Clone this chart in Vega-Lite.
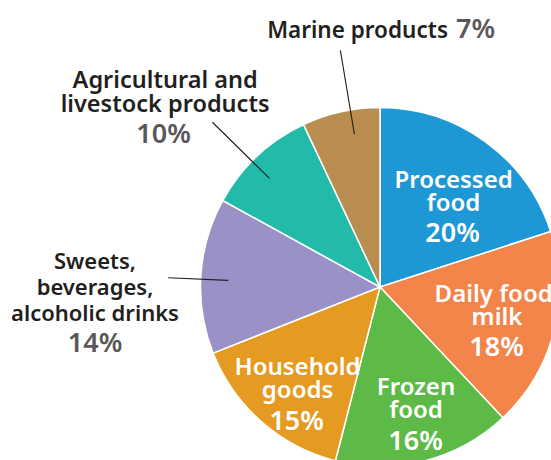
{
  "$schema": "https://vega.github.io/schema/vega-lite/v6.json",
  "width": 760,
  "height": 574,
  "autosize": {"type": "none"},
  "padding": {"left": 0, "top": 0, "right": -209, "bottom": -114},
  "background": "white",
  "config": {"view": {"stroke": null}},
  "data": {
    "values": [
      {"idx": 1, "cat": "Processed food", "value": 20, "name": "Processed\nfood", "pct": "20%"},
      {"idx": 2, "cat": "Daily food, milk", "value": 18, "name": "Daily food,\nmilk", "pct": "18%"},
      {"idx": 3, "cat": "Frozen food", "value": 16, "name": "Frozen\nfood", "pct": "16%"},
      {"idx": 4, "cat": "Household goods", "value": 15, "name": "Household\ngoods", "pct": "15%"},
      {"idx": 5, "cat": "Sweets, beverages, alcoholic drinks", "value": 14, "name": "Sweets,\nbeverages,\nalcoholic drinks", "pct": "14%"},
      {"idx": 6, "cat": "Agricultural and livestock products", "value": 10, "name": "Agricultural and\nlivestock products", "pct": "10%"},
      {"idx": 7, "cat": "Marine products", "value": 7, "name": "Marine products", "pct": "7%"}
    ]
  },
  "encoding": {
    "theta": {"field": "value", "type": "quantitative", "stack": true, "scale": {"domain": [0, 100]}},
    "order": {"field": "idx", "type": "quantitative"}
  },
  "layer": [
    {
      "mark": {"type": "arc", "outerRadius": 179.5, "stroke": "white", "strokeWidth": 1.5},
      "encoding": {
        "color": {
          "field": "cat", "type": "nominal", "legend": null,
          "scale": {
            "domain": ["Processed food", "Daily food, milk", "Frozen food", "Household goods", "Sweets, beverages, alcoholic drinks", "Agricultural and livestock products", "Marine products"],
            "range": ["#1e98d4", "#f3844a", "#5dba46", "#e59a22", "#9a92c6", "#22bbaa", "#b98c50"]
          }
        }
      }
    },
    {
      "mark": {"type": "arc", "innerRadius": 155, "outerRadius": 240, "padAngle": 3.14, "thetaOffset": 0.054, "theta2Offset": 0.054, "fill": "transparent", "stroke": "#231f20", "strokeWidth": 1.1},
      "encoding": {"strokeOpacity": {"condition": {"test": "datum.cat === 'Marine products'", "value": 1}, "value": 0}}
    },
    {
      "mark": {"type": "arc", "innerRadius": 155, "outerRadius": 235, "padAngle": 3.14, "thetaOffset": -0.040, "theta2Offset": -0.040, "fill": "transparent", "stroke": "#231f20", "strokeWidth": 1.1},
      "encoding": {"strokeOpacity": {"condition": {"test": "datum.cat === 'Agricultural and livestock products'", "value": 1}, "value": 0}}
    },
    {
      "mark": {"type": "arc", "innerRadius": 152, "outerRadius": 212, "padAngle": 3.14, "thetaOffset": -0.019, "theta2Offset": -0.019, "fill": "transparent", "stroke": "#231f20", "strokeWidth": 1.1},
      "encoding": {"strokeOpacity": {"condition": {"test": "datum.cat === 'Sweets, beverages, alcoholic drinks'", "value": 1}, "value": 0}}
    },

    {"mark": {"type": "text", "radius": 115, "dx": 6, "dy": -5.7, "font": "Noto Sans", "fontWeight": 600, "fontSize": 24, "lineHeight": 23, "lineBreak": "\n", "align": "center", "baseline": "alphabetic", "fill": "white"},
     "encoding": {"text": {"condition": {"test": "datum.cat === 'Processed food'", "field": "name", "type": "nominal"}, "value": ""}}},
    {"mark": {"type": "text", "radius": 115, "dx": 5, "dy": 48, "font": "Noto Sans", "fontWeight": 600, "fontSize": 27, "align": "center", "baseline": "alphabetic", "fill": "white"},
     "encoding": {"text": {"condition": {"test": "datum.cat === 'Processed food'", "field": "pct", "type": "nominal"}, "value": ""}}},

    {"mark": {"type": "text", "radius": 115, "dx": 5.6, "dy": -14, "font": "Noto Sans", "fontWeight": 600, "fontSize": 24, "lineHeight": 23, "lineBreak": "\n", "align": "center", "baseline": "alphabetic", "fill": "white"},
     "encoding": {"text": {"condition": {"test": "datum.cat === 'Daily food, milk'", "field": "name", "type": "nominal"}, "value": ""}}},
    {"mark": {"type": "text", "radius": 115, "dx": 5.2, "dy": 40.4, "font": "Noto Sans", "fontWeight": 600, "fontSize": 27, "align": "center", "baseline": "alphabetic", "fill": "white"},
     "encoding": {"text": {"condition": {"test": "datum.cat === 'Daily food, milk'", "field": "pct", "type": "nominal"}, "value": ""}}},

    {"mark": {"type": "text", "radius": 115, "dx": 7.4, "dy": -2.9, "font": "Noto Sans", "fontWeight": 600, "fontSize": 24, "lineHeight": 23, "lineBreak": "\n", "align": "center", "baseline": "alphabetic", "fill": "white"},
     "encoding": {"text": {"condition": {"test": "datum.cat === 'Frozen food'", "field": "name", "type": "nominal"}, "value": ""}}},
    {"mark": {"type": "text", "radius": 115, "dx": 7, "dy": 51.6, "font": "Noto Sans", "fontWeight": 600, "fontSize": 27, "align": "center", "baseline": "alphabetic", "fill": "white"},
     "encoding": {"text": {"condition": {"test": "datum.cat === 'Frozen food'", "field": "pct", "type": "nominal"}, "value": ""}}},

    {"mark": {"type": "text", "radius": 115, "dx": -6.4, "dy": 1.7, "font": "Noto Sans", "fontWeight": 600, "fontSize": 24, "lineHeight": 23, "lineBreak": "\n", "align": "center", "baseline": "alphabetic", "fill": "white"},
     "encoding": {"text": {"condition": {"test": "datum.cat === 'Household goods'", "field": "name", "type": "nominal"}, "value": ""}}},
    {"mark": {"type": "text", "radius": 115, "dx": -7.3, "dy": 56.3, "font": "Noto Sans", "fontWeight": 600, "fontSize": 27, "align": "center", "baseline": "alphabetic", "fill": "white"},
     "encoding": {"text": {"condition": {"test": "datum.cat === 'Household goods'", "field": "pct", "type": "nominal"}, "value": ""}}},

    {"mark": {"type": "text", "radius": 200, "dx": 111.6, "dy": -53.8, "font": "Noto Sans", "fontWeight": 600, "fontSize": 22.5, "align": "right", "baseline": "alphabetic", "fill": "#231f20"},
     "encoding": {"text": {"condition": {"test": "datum.cat === 'Marine products'", "field": "name", "type": "nominal"}, "value": ""}}},
    {"mark": {"type": "text", "radius": 200, "dx": 119.6, "dy": -53.8, "font": "Noto Sans", "fontWeight": 600, "fontSize": 27, "align": "left", "baseline": "alphabetic", "fill": "#595757"},
     "encoding": {"text": {"condition": {"test": "datum.cat === 'Marine products'", "field": "pct", "type": "nominal"}, "value": ""}}},

    {"mark": {"type": "text", "radius": 200, "dx": -78, "dy": -53.2, "font": "Noto Sans", "fontWeight": 600, "fontSize": 23.5, "lineHeight": 24, "lineBreak": "\n", "align": "center", "baseline": "alphabetic", "fill": "#231f20"},
     "encoding": {"text": {"condition": {"test": "datum.cat === 'Agricultural and livestock products'", "field": "name", "type": "nominal"}, "value": ""}}},
    {"mark": {"type": "text", "radius": 200, "dx": -79.5, "dy": 1.8, "font": "Noto Sans", "fontWeight": 600, "fontSize": 27, "align": "center", "baseline": "alphabetic", "fill": "#595757"},
     "encoding": {"text": {"condition": {"test": "datum.cat === 'Agricultural and livestock products'", "field": "pct", "type": "nominal"}, "value": ""}}},

    {"mark": {"type": "text", "radius": 200, "dx": -85.4, "dy": -5.8, "font": "Noto Sans", "fontWeight": 600, "fontSize": 22, "lineHeight": 26, "lineBreak": "\n", "align": "center", "baseline": "alphabetic", "fill": "#231f20"},
     "encoding": {"text": {"condition": {"test": "datum.cat === 'Sweets, beverages, alcoholic drinks'", "field": "name", "type": "nominal"}, "value": ""}}},
    {"mark": {"type": "text", "radius": 200, "dx": -85.4, "dy": 78, "font": "Noto Sans", "fontWeight": 600, "fontSize": 27, "align": "center", "baseline": "alphabetic", "fill": "#595757"},
     "encoding": {"text": {"condition": {"test": "datum.cat === 'Sweets, beverages, alcoholic drinks'", "field": "pct", "type": "nominal"}, "value": ""}}}
  ]
}
